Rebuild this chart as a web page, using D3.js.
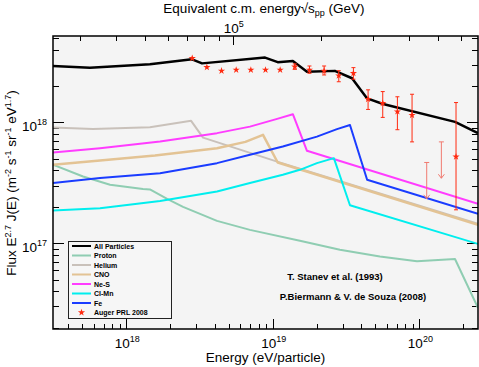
<!DOCTYPE html>
<html>
<head>
<meta charset="utf-8">
<script src="https://cdn.jsdelivr.net/npm/d3@7"></script>
<style>
  body { margin: 0; background: #fff; }
  svg { display: block; font-family: "Liberation Sans", Arial, Helvetica, sans-serif; }
</style>
</head>
<body>
<script>
// energies in eV, fluxes as E^2.7 J(E)
var allE  = [3.16e17, 5.65e17, 1.45e18, 2.81e18, 3.29e18, 8.85e18, 1.08e19, 1.37e19, 1.71e19, 2.65e19, 3.47e19, 4.40e19, 5.65e19, 1.75e20, 2.51e20];
var allF  = [2.93e18, 2.84e18, 3.03e18, 3.33e18, 3.08e18, 3.44e18, 3.15e18, 3.22e18, 2.63e18, 2.67e18, 2.32e18, 1.58e18, 1.42e18, 1.01e18, 8.15e17];

var protonE = [3.16e17, 5.07e17, 7.75e17, 1.30e18, 1.45e18, 1.90e18, 2.44e18, 4.16e18, 6.98e18, 1.53e19, 2.87e19, 5.38e19, 9.63e19, 1.75e20, 2.51e20];
var protonF = [4.46e17, 3.57e17, 3.05e17, 2.81e17, 2.79e17, 2.33e17, 2.00e17, 1.53e17, 1.29e17, 1.05e17, 8.84e16, 7.78e16, 7.08e16, 7.41e16, 2.92e16];

var heliumE = [3.16e17, 5.93e17, 1.45e18, 2.77e18, 3.34e18, 1.07e19, 2.51e20];
var heliumF = [9.06e17, 8.83e17, 9.12e17, 1.03e18, 7.48e17, 4.74e17, 1.45e17];

var cnoE = [3.16e17, 6.62e17, 1.57e18, 4.16e18, 6.5e18, 8.57e18, 1.08e19, 2.51e20];
var cnoF = [4.46e17, 4.83e17, 5.33e17, 6.12e17, 6.9e17, 7.89e17, 4.66e17, 1.42e17];

var nesE = [3.16e17, 6.62e17, 1.70e18, 4.16e18, 6.98e18, 1.07e19, 1.37e19, 1.71e19, 2.51e20];
var nesF = [5.63e17, 6.12e17, 6.94e17, 8.15e17, 9.23e17, 1.07e18, 1.17e18, 5.82e17, 2.12e17];

var clmnE = [3.16e17, 6.62e17, 1.70e18, 4.16e18, 6.98e18, 1.17e19, 1.53e19, 2.00e19, 2.61e19, 3.36e19, 2.51e20];
var clmnF = [1.87e17, 1.95e17, 2.24e17, 2.68e17, 3.15e17, 3.69e17, 4.05e17, 4.60e17, 5.06e17, 2.06e17, 9.87e16];

var feE = [3.16e17, 6.62e17, 1.70e18, 4.16e18, 6.98e18, 1.17e19, 2.00e19, 2.74e19, 3.36e19, 4.40e19, 2.51e20];
var feF = [3.15e17, 3.46e17, 3.80e17, 4.60e17, 5.40e17, 6.31e17, 7.63e17, 8.79e17, 9.53e17, 3.35e17, 1.75e17];

// Auger PRL 2008 (log10 of bin energy)
var augerLogE = [18.45, 18.55, 18.65, 18.75, 18.85, 18.95, 19.05, 19.15, 19.25, 19.35, 19.45, 19.55, 19.65, 19.75, 19.85, 19.95, 20.05, 20.15, 20.25];
var augerF  = [3.40e18, 2.86e18, 2.67e18, 2.72e18, 2.72e18, 2.72e18, 2.72e18, 2.89e18, 2.72e18, 2.67e18, 2.44e18, 2.55e18, 1.56e18, 1.44e18, 1.23e18, 1.15e18, 4.66e17, 6.90e17, 5.20e17];
var augerLo = [3.36e18, 2.83e18, 2.64e18, 2.69e18, 2.69e18, 2.69e18, 2.69e18, 2.75e18, 2.55e18, 2.47e18, 2.17e18, 2.28e18, 1.28e18, 1.10e18, 8.70e17, 6.90e17, null, null, 1.89e17];
var augerHi = [3.44e18, 2.89e18, 2.70e18, 2.75e18, 2.75e18, 2.75e18, 2.75e18, 3.05e18, 2.93e18, 2.93e18, 2.68e18, 2.84e18, 1.86e18, 1.80e18, 1.63e18, 1.71e18, null, null, 1.46e18];
var augerLimit = [false, false, false, false, false, false, false, false, false, false, false, false, false, false, false, false, true, true, false];

var legendNames  = ["All Particles", "Proton", "Helium", "CNO", "Ne-S", "Cl-Mn", "Fe", "Auger PRL 2008"];
var legendColors = ["#000000", "#8fcdb2", "#c9c1ba", "#e3c394", "#ff3cff", "#00eeee", "#1a3cff", "#ff2a10"];

var xTickLabels = [1e18, 1e19, 1e20];
var yTickLabels = [1e17, 1e18];
var topTickLabels = [1e5];

var W = 479, H = 367;
var L = 53, R = 478, T = 36, B = 329;

var svg = d3.select("body").append("svg").attr("width", W).attr("height", H);

var x = d3.scaleLog().domain([Math.pow(10, 17.5), Math.pow(10, 20.4)]).range([L, R]);
var y = d3.scaleLog().domain([1.95e16, 5.19e18]).range([B, T]);

// sqrt(s) for a proton on a proton at rest, GeV
function sqrtS(e) { return Math.sqrt(2 * 0.938 * e / 1e9); }
var xTop = d3.scaleLog().domain([sqrtS(x.domain()[0]), sqrtS(x.domain()[1])]).range([L, R]);

svg.append("rect").attr("x", L).attr("y", T).attr("width", R - L).attr("height", B - T).attr("fill", "#f4f4f4");

svg.append("defs").append("clipPath").attr("id", "clip")
  .append("rect").attr("x", L).attr("y", T).attr("width", R - L).attr("height", B - T);

function isMajor(v) { return Math.abs(Math.log10(v) - Math.round(Math.log10(v))) < 1e-6; }

// ticks, all pointing into the frame
var ticks = svg.append("g").attr("stroke", "#000").attr("stroke-width", 1);
x.ticks().forEach(function(v) {
  var len = isMajor(v) ? 10 : 5, px = Math.round(x(v)) + 0.5;
  ticks.append("line").attr("x1", px).attr("x2", px).attr("y1", B).attr("y2", B - len);
});
xTop.ticks().forEach(function(v) {
  var len = isMajor(v) ? 9 : 5, px = Math.round(xTop(v)) + 0.5;
  ticks.append("line").attr("x1", px).attr("x2", px).attr("y1", T).attr("y2", T + len);
});
y.ticks().forEach(function(v) {
  var len = isMajor(v) ? 11 : 6, py = Math.round(y(v)) + 0.5;
  ticks.append("line").attr("x1", L).attr("x2", L + len).attr("y1", py).attr("y2", py);
  ticks.append("line").attr("x1", R).attr("x2", R - len).attr("y1", py).attr("y2", py);
});

// component curves
var line = d3.line().x(function(d) { return x(d[0]); }).y(function(d) { return y(d[1]); });
var curves = svg.append("g").attr("clip-path", "url(#clip)").attr("fill", "none").attr("stroke-linejoin", "round");
function drawCurve(es, fs, color, width) {
  curves.append("path").datum(d3.zip(es, fs)).attr("d", line).attr("stroke", color).attr("stroke-width", width);
}
drawCurve(protonE, protonF, legendColors[1], 2);
drawCurve(heliumE, heliumF, legendColors[2], 2);
drawCurve(cnoE, cnoF, legendColors[3], 2.5);
drawCurve(nesE, nesF, legendColors[4], 2);
drawCurve(clmnE, clmnF, legendColors[5], 2);
drawCurve(feE, feF, legendColors[6], 2);
drawCurve(allE, allF, legendColors[0], 2.5);

// Auger points
var auger = svg.append("g").attr("clip-path", "url(#clip)");
var star = d3.symbol().type(d3.symbolStar).size(16);
augerLogE.forEach(function(le, i) {
  var px = x(Math.pow(10, le));
  if (augerLimit[i]) {
    var y0 = y(augerF[i]), y1 = y(augerF[i] / 2);
    var c = "#f07a70";
    auger.append("line").attr("x1", px).attr("x2", px).attr("y1", y0).attr("y2", y1).attr("stroke", c).attr("stroke-width", 1);
    auger.append("line").attr("x1", px - 2.5).attr("x2", px + 2.5).attr("y1", y0).attr("y2", y0).attr("stroke", c).attr("stroke-width", 1);
    auger.append("path").attr("d", "M" + (px - 3) + "," + (y1 - 4) + "L" + px + "," + y1 + "L" + (px + 3) + "," + (y1 - 4))
      .attr("fill", "none").attr("stroke", c).attr("stroke-width", 1);
    return;
  }
  var c2 = legendColors[7];
  var ylo = y(augerLo[i]), yhi = y(augerHi[i]);
  if (ylo - yhi > 5) {
    auger.append("line").attr("x1", px).attr("x2", px).attr("y1", ylo).attr("y2", yhi).attr("stroke", c2).attr("stroke-width", 1);
    [ylo, yhi].forEach(function(yy) {
      auger.append("line").attr("x1", px - 2).attr("x2", px + 2).attr("y1", yy).attr("y2", yy).attr("stroke", c2).attr("stroke-width", 1);
    });
  }
  auger.append("path").attr("d", star).attr("transform", "translate(" + px + "," + y(augerF[i]) + ")").attr("fill", c2);
});

// frame
svg.append("rect").attr("x", L).attr("y", T).attr("width", R - L).attr("height", B - T)
  .attr("fill", "none").attr("stroke", "#000").attr("stroke-width", 1.5);

// power-of-ten label with superscript
function powLabel(g, v, px, py, anchor) {
  var t = g.append("text").attr("x", px).attr("y", py).attr("text-anchor", anchor).attr("font-size", 13.5);
  t.append("tspan").text("10");
  t.append("tspan").attr("dy", -6).attr("font-size", 9).text(Math.round(Math.log10(v)));
  return t;
}
xTickLabels.forEach(function(v) { powLabel(svg, v, x(v) + 1, 348, "middle"); });
yTickLabels.forEach(function(v) { powLabel(svg, v, 47, y(v) + 9, "end"); });
topTickLabels.forEach(function(v) { powLabel(svg, v, xTop(v) + 1, 33, "middle"); });

// axis titles
svg.append("text").attr("x", (L + R) / 2).attr("y", 362).attr("text-anchor", "middle").attr("font-size", 13.5)
  .text("Energy (eV/particle)");

var topTitle = svg.append("text").attr("x", 264).attr("y", 13).attr("text-anchor", "middle").attr("font-size", 13.5);
topTitle.append("tspan").text("Equivalent c.m. energy\u221As");
topTitle.append("tspan").attr("dy", 3).attr("font-size", 9).text("pp");
topTitle.append("tspan").attr("dy", -3).text(" (GeV)");

var yt = svg.append("text").attr("transform", "translate(16," + 183 + ") rotate(-90)")
  .attr("text-anchor", "middle").attr("font-size", 13.5);
[["Flux E", 0], ["2.7", 1], [" J(E) (m", 0], ["-2", 1], [" s", 0], ["-1", 1], [" sr", 0], ["-1", 1], [" eV", 0], ["1.7", 1], [")", 0]]
  .forEach(function(p, i, arr) {
    var prevSup = i > 0 && arr[i - 1][1];
    var s = yt.append("tspan").text(p[0]);
    if (p[1]) s.attr("dy", -5).attr("font-size", 9);
    else if (prevSup) s.attr("dy", 5);
  });

// legend
var lg = svg.append("g");
lg.append("rect").attr("x", 68.5).attr("y", 241.5).attr("width", 103).attr("height", 77)
  .attr("fill", "#f6f6f6").attr("stroke", "#222").attr("stroke-width", 1);
legendNames.forEach(function(name, i) {
  var cy = 246 + i * 9.5;
  if (i < legendNames.length - 1) {
    lg.append("line").attr("x1", 72).attr("x2", 91).attr("y1", cy).attr("y2", cy)
      .attr("stroke", legendColors[i]).attr("stroke-width", 2);
  } else {
    lg.append("path").attr("d", star).attr("transform", "translate(81.5," + cy + ")").attr("fill", legendColors[i]);
  }
  lg.append("text").attr("x", 94).attr("y", cy + 2.5).attr("font-size", 7).attr("font-weight", "bold").text(name);
});

// references
svg.append("text").attr("x", 335).attr("y", 280).attr("text-anchor", "middle").attr("font-size", 9.5)
  .attr("font-weight", "bold").text("T. Stanev et al. (1993)");
svg.append("text").attr("x", 353).attr("y", 300).attr("text-anchor", "middle").attr("font-size", 9.5)
  .attr("font-weight", "bold").text("P.Biermann & V. de Souza (2008)");
</script>
</body>
</html>
